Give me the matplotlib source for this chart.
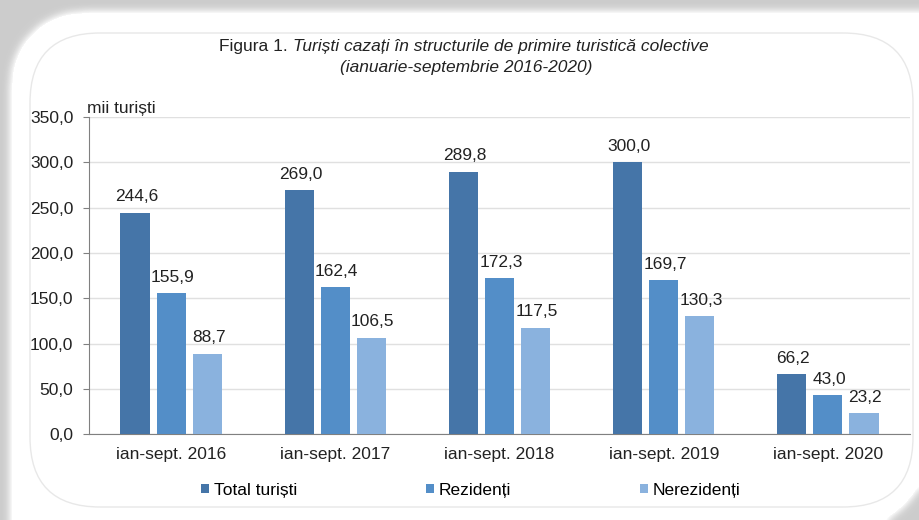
import matplotlib.pyplot as plt
import numpy as np
from matplotlib.patches import FancyBboxPatch

categories = ['ian-sept. 2016', 'ian-sept. 2017', 'ian-sept. 2018', 'ian-sept. 2019', 'ian-sept. 2020']
total = [244.6, 269.0, 289.8, 300.0, 66.2]
rezidenti = [155.9, 162.4, 172.3, 169.7, 43.0]
nerezidenti = [88.7, 106.5, 117.5, 130.3, 23.2]
series_names = ['Total turiști', 'Rezidenți', 'Nerezidenți']
colors = ['#4575a8', '#538ec8', '#8ab2de']

plt.rcParams['font.family'] = ['Liberation Sans', 'DejaVu Sans']
fs = 12.5
W, H = 920, 520

fig = plt.figure(figsize=(W / 100, H / 100), dpi=100)
fig.patch.set_facecolor('white')

# background card: white, rounded top-left and bottom-right, soft gray outside
yy, xx = np.mgrid[0:H, 0:W]
card = (xx >= 12) & (yy >= 13)
tl = (xx < 82) & (yy < 83) & ((xx - 82) ** 2 + (yy - 83) ** 2 > 70 ** 2)
br = (xx > 840) & (yy > 440) & ((xx - 840) ** 2 + (yy - 440) ** 2 > 90 ** 2)
card = card & ~tl & ~br


def box_blur(a, r):
    k = np.ones(2 * r + 1) / (2 * r + 1)
    p = np.pad(a, r, mode='edge')
    p = np.apply_along_axis(lambda v: np.convolve(v, k, mode='valid'), 1, p)
    p = np.apply_along_axis(lambda v: np.convolve(v, k, mode='valid'), 0, p)
    return p


soft = card.astype(float)
for _ in range(2):
    soft = box_blur(soft, 5)
bg = np.where(card, 1.0, 0.80 + 0.35 * soft)
bg = np.clip(bg, 0, 1)
fig.figimage(bg, xo=0, yo=0, cmap='gray', vmin=0, vmax=1, origin='upper', zorder=-5)

inner = FancyBboxPatch((30, 13), 883, 474, boxstyle='round,pad=0,rounding_size=70',
                       transform=None, facecolor='none', edgecolor='#e8e8e8',
                       linewidth=1.0, zorder=-2)
fig.patches.append(inner)

ax = fig.add_axes([89 / W, 0.165, 821 / W, 0.61])
ax.set_facecolor('none')

x = np.arange(len(categories))
w = 0.177
step = 0.22
for k, (vals, col, name) in enumerate(zip([total, rezidenti, nerezidenti], colors, series_names)):
    pos = x + (k - 1) * step
    ax.bar(pos, vals, width=w, color=col, label=name, zorder=3)
    for p, v in zip(pos, vals):
        ax.annotate(f'{v:.1f}'.replace('.', ','), (p, v), xytext=(1, 6),
                    textcoords='offset points', ha='center', va='bottom',
                    fontsize=fs, color='#222222')

ax.set_xlim(-0.5, len(categories) - 0.5)
ax.set_ylim(0, 350)
yt = np.arange(0, 351, 50)
ax.set_yticks(yt)
ax.set_yticklabels([f'{t:.1f}'.replace('.', ',') for t in yt])
ax.set_xticks(x)
ax.set_xticklabels(categories)
ax.tick_params(axis='x', length=0, pad=9, labelsize=fs, colors='#222222')
ax.tick_params(axis='y', length=4.3, width=0.8, color='#808080', pad=7, labelsize=fs, labelcolor='#222222')
ax.grid(axis='y', color='#e0e0e0', linewidth=1.0, zorder=0)
ax.set_axisbelow(True)
for s in ['top', 'right']:
    ax.spines[s].set_visible(False)
ax.spines['left'].set_color('#808080')
ax.spines['bottom'].set_color('#808080')

ax.text(-0.002, 1.003, 'mii turiști', transform=ax.transAxes, ha='left', va='bottom', fontsize=fs, color='#222222')

fig.text(0.318, 0.897, 'Figura 1. ', ha='right', va='bottom', fontsize=fs, color='#222222')
fig.text(0.318, 0.897, 'Turiști cazați în structurile de primire turistică colective',
         ha='left', va='bottom', fontsize=fs, style='italic', color='#222222')
fig.text(0.507, 0.855, '(ianuarie-septembrie 2016-2020)', ha='center', va='bottom',
         fontsize=fs, style='italic', color='#222222')

fig.legend(loc='center', bbox_to_anchor=(0.512, 0.057), ncol=3, frameon=False,
           fontsize=fs, handlelength=0.45, handleheight=0.45, handletextpad=0.3,
           columnspacing=7.4)

fig.savefig('out.png', dpi=100)
